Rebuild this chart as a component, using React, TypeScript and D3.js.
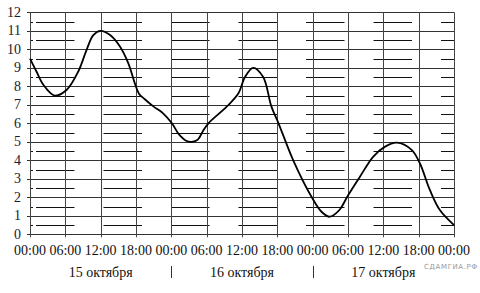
import React from "react";
import * as d3 from "d3";

const hours: number[] = [0, 6, 12, 18, 24, 30, 36, 42, 48, 54, 60, 66, 72];
const timeLabels: string[] = ["00:00", "06:00", "12:00", "18:00", "00:00", "06:00", "12:00", "18:00", "00:00", "06:00", "12:00", "18:00", "00:00"];
const yTicks: number[] = [0, 1, 2, 3, 4, 5, 6, 7, 8, 9, 10, 11, 12];
const days: string[] = ["15 октября", "16 октября", "17 октября"];
const dayCenters: number[] = [12, 36, 60];
const daySeparators: number[] = [24, 48];

const curveHours: number[] = [0, 1.1, 2.3, 4.2, 6.2, 8.2, 9.6, 10.75, 12, 13.6, 15.3, 16.7, 17.8, 18.5, 19.5, 21, 22.6, 24.1, 25.3, 26.5, 27.5, 28.5, 29.4, 30.3, 33.4, 35.4, 36.5, 37.9, 39.6, 41, 42.2, 44.7, 47.8, 49.5, 50.9, 52.5, 54, 56, 58.3, 60.3, 62.3, 64.8, 66.2, 67.9, 69.6, 72];
const curveValues: number[] = [9.5, 8.8, 8.07, 7.5, 7.8, 8.8, 9.96, 10.77, 11.0, 10.77, 10.14, 9.24, 8.16, 7.6, 7.3, 6.9, 6.54, 6.0, 5.4, 5.06, 5.0, 5.12, 5.6, 6.0, 6.9, 7.62, 8.5, 9.0, 8.5, 6.9, 6.0, 4.0, 2.03, 1.22, 0.95, 1.3, 2.1, 3.1, 4.2, 4.74, 4.95, 4.56, 3.84, 2.4, 1.31, 0.5];

export default function App() {
  const W = 480, H = 293;
  const x = d3.scaleLinear().domain([0, 72]).range([30, 454]);
  const y = d3.scaleLinear().domain([0, 12]).range([234.3, 12.3]);
  const pts: [number, number][] = curveHours.map((h, i) => [h, curveValues[i]]);
  const line = d3.line<[number, number]>().x(d => x(d[0])).y(d => y(d[1])).curve(d3.curveCatmullRom.alpha(0.5));
  const halfLevels = yTicks.slice(0, -1).map(v => v + 0.5);
  const serif = "'Liberation Serif', 'Times New Roman', serif";
  return (
    <svg width={W} height={H} style={{ position: "absolute", left: 0, top: 0, background: "#fff" }}>
      {halfLevels.map(v => (
        <g key={"h" + v}>
          <line x1={36} x2={454} y1={Math.round(y(v)) + 0.5} y2={Math.round(y(v)) + 0.5} stroke="#111" strokeWidth={1} strokeDasharray="38.5 29" />
          <line x1={30} x2={33} y1={Math.round(y(v)) + 0.5} y2={Math.round(y(v)) + 0.5} stroke="#111" strokeWidth={1} />
        </g>
      ))}
      {yTicks.map(v => (
        <line key={"g" + v} x1={27} x2={454} y1={Math.round(y(v)) + 0.5} y2={Math.round(y(v)) + 0.5} stroke="#333" strokeWidth={1} />
      ))}
      {hours.map(h => (
        <line key={"v" + h} x1={Math.round(x(h)) + 0.5} x2={Math.round(x(h)) + 0.5} y1={y(12)} y2={y(0) + 3} stroke="#444" strokeWidth={1} />
      ))}
      <path d={line(pts) || ""} fill="none" stroke="#000" strokeWidth={1.8} />
      {yTicks.map(v => (
        <text key={"yl" + v} x={21} y={y(v) + 4.5} textAnchor="end" fontFamily={serif} fontSize={14} fill="#1a1a30">{v}</text>
      ))}
      {hours.map((h, i) => (
        <text key={"xl" + i} x={x(h)} y={255} textAnchor="middle" fontFamily={serif} fontSize={14} fill="#111">{timeLabels[i]}</text>
      ))}
      {days.map((d, i) => (
        <text key={"d" + i} x={x(dayCenters[i])} y={276.5} textAnchor="middle" fontFamily={serif} fontSize={14} fill="#111">{d}</text>
      ))}
      {daySeparators.map(h => (
        <line key={"s" + h} x1={Math.round(x(h)) + 0.5} x2={Math.round(x(h)) + 0.5} y1={266} y2={278} stroke="#333" strokeWidth={1} />
      ))}
      <text x={478} y={269} textAnchor="end" fontFamily="'DejaVu Sans', sans-serif" fontSize={7} letterSpacing={0.6} fill="#999">СДАМГИА.РФ</text>
    </svg>
  );
}
